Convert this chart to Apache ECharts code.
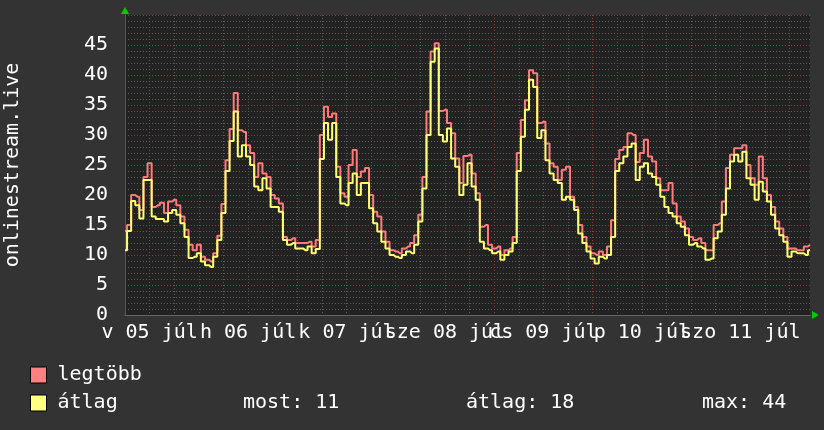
<!DOCTYPE html>
<html>
<head>
<meta charset="utf-8">
<script src="https://cdn.jsdelivr.net/npm/echarts@6/dist/echarts.min.js"></script>
<style>
  html, body { margin: 0; background: #333333; }
  #chart { width: 824px; height: 430px; }
</style>
</head>
<body>
<div id="chart"></div>
<script>
// hourly samples, 05 júl 06:00 -> 12 júl 05:00
var startDay = 5
var startHour = 6
var dayLabels = ['v 05 júl', 'h 06 júl', 'k 07 júl', 'sze 08 júl', 'cs 09 júl', 'p 10 júl', 'szo 11 júl']

var legtobb = [
  14, 15, 20, 19.7, 17.5, 23, 25.3, 18, 18.3, 18.7, 17, 18.9, 19.2, 18.3, 16.4, 14.2, 11.7, 10.8,
  11.7, 9.7, 9.2, 8.9, 10.3, 13.2, 18.5, 25.8, 31, 37, 30.8, 30.5, 28.3, 27, 23, 25.3, 23.6, 23, 20, 19.4, 18.6, 13, 12.5, 12.8,
  12, 12, 12, 12.2, 11.4, 12.5, 30, 34.7, 33, 33.6, 24.7, 20.3, 19.7, 25, 27.5, 23, 23.9, 24.5, 20, 17.2, 16.4, 13.9, 12.2, 10.8,
  10.6, 10.3, 11.1, 11.4, 12, 13.3, 16.7, 23, 33.9, 43.9, 45.3, 34, 34.2, 32, 30.3, 26.1, 22, 26.5, 26.7, 23.6, 20.3, 14.7, 15, 11.7,
  11.1, 11.4, 10, 10.8, 11.1, 13, 27, 32.5, 35.8, 40.8, 40.3, 32, 32.2, 28.6, 25.3, 24.7, 22.5, 24.2, 24.7, 19.7, 18, 15, 13, 11.4,
  10.3, 10, 10.6, 10, 11.4, 15.8, 26, 27.5, 28, 30.3, 30, 25.5, 27, 29.2, 26.4, 25.6, 22.8, 20.8, 20.8, 22, 18.6, 16.4, 15.6, 14.4,
  13, 12.5, 12.8, 12, 10.8, 10.8, 15, 15.3, 18.9, 24.5, 26.7, 27.8, 27.8, 28.3, 25, 22.8, 21.7, 26.4, 22.8, 20, 18, 15.6, 14.4, 13,
  11.1, 11.1, 10.8, 10.8, 11.4, 11.7
]
var atlag = [
  10.8, 14, 19, 18.3, 16.1, 22.5, 22.5, 16.4, 16, 16, 15.6, 17, 17.5, 16.7, 15.3, 13, 9.5, 9.7,
  10.3, 8.9, 8.3, 8, 9.7, 12.5, 17, 24, 29, 33.9, 26.4, 28.3, 26.4, 25, 21.4, 20.8, 22.8, 21.1, 18, 18, 17.2, 12.5, 11.7, 12,
  11.1, 11.1, 10.8, 11.4, 10.3, 11, 26, 32, 29.2, 32, 23, 18.6, 18.3, 22, 23.6, 20, 22, 22, 17.8, 15.3, 13.9, 12.2, 11.1, 10,
  9.7, 9.5, 10, 10.6, 10.3, 11.7, 15.6, 21.1, 30, 42.2, 44.4, 30, 28.9, 31.1, 26.1, 24.7, 20, 21.7, 25.3, 21.4, 19.2, 12.2, 11.1, 10.8,
  10.3, 10.6, 9.2, 10, 10.6, 12, 24, 29.7, 34.2, 39.2, 38, 29.5, 30.8, 25.8, 23.6, 22.5, 22, 19.2, 19.7, 19.2, 17.5, 13.6, 12, 10.6,
  9.4, 8.6, 9.7, 9.4, 10, 13, 24, 25.3, 26.4, 28, 28.6, 22.5, 24.7, 25.3, 23.6, 23, 21.7, 19.7, 18, 17, 16.4, 15.3, 14.7, 13.3,
  11.7, 12, 11.4, 11.1, 9.2, 9.4, 12.8, 13.9, 16.7, 21.1, 25.6, 26.7, 25.6, 27.2, 22.8, 21.7, 19.2, 22.2, 20.6, 18.9, 16.7, 14.4, 13.3, 12.2,
  9.7, 10.6, 10.3, 10.3, 10, 10.8
]
var stats = ['most: 11', 'átlag: 18', 'max: 44']

// category labels: one per hour
var hours = []
for (var i = 0; i < legtobb.length; i++) {
  var h = startHour + i
  var d = startDay + Math.floor(h / 24)
  hours.push('07-' + (d < 10 ? '0' + d : d) + ' ' + (h % 24) + ':00')
}
function hourOf(idx) { return (startHour + idx) % 24 }
function dayOf(idx) { return Math.floor((startHour + idx) / 24) }

var mono = 'DejaVu Sans Mono'
var chart = echarts.init(document.getElementById('chart'))

// labels are split over the two x axes (even / odd days) so none gets hidden
function dayLabel(parity) {
  return {
    interval: function (idx) { return hourOf(idx) === 12 && dayOf(idx) % 2 === parity },
    formatter: function (v, idx) { return dayLabels[dayOf(idx)] },
    showMinLabel: true, showMaxLabel: true, hideOverlap: false,
    color: '#ffffff', fontSize: 20, fontFamily: mono, margin: 8
  }
}

var option = {
  backgroundColor: '#333333',
  animation: false,
  grid: {
    left: 125, right: 14, top: 15, bottom: 115,
    containLabel: false, outerBoundsMode: 'none',
    show: true, backgroundColor: '#222222', borderWidth: 0
  },
  legend: {
    orient: 'vertical',
    left: 25, top: 360,
    itemWidth: 16, itemHeight: 16, itemGap: 8,
    icon: 'rect',
    selectedMode: false,
    textStyle: { color: '#ffffff', fontSize: 20, fontFamily: mono, padding: [0, 0, 0, 6] },
    data: [
      { name: 'legtöbb', itemStyle: { borderColor: '#000', borderWidth: 1 } },
      { name: 'átlag', itemStyle: { borderColor: '#000', borderWidth: 1 } }
    ]
  },
  xAxis: [
    {
      type: 'category',
      data: hours,
      boundaryGap: false,
      axisLine: { show: true, lineStyle: { color: '#666666' } },
      axisTick: { show: false },
      axisLabel: dayLabel(0),
      splitLine: {
        show: true,
        interval: function (idx) { return hourOf(idx) === 0 },
        lineStyle: { color: '#8a3c3c', type: [1, 2], width: 1 }
      },
      z: 3
    },
    {
      type: 'category',
      data: hours,
      boundaryGap: false,
      position: 'bottom',
      offset: 0,
      axisLine: { show: false },
      axisTick: { show: false },
      axisLabel: dayLabel(1),
      splitLine: {
        show: true,
        interval: function (idx) { return hourOf(idx) % 6 === 0 && hourOf(idx) !== 0 },
        lineStyle: { color: '#5a5a5a', type: [1, 2], width: 1 }
      }
    }
  ],
  yAxis: {
    type: 'value',
    min: 0, max: 50, interval: 5,
    name: 'onlinestream.live',
    nameLocation: 'middle',
    nameGap: 102,
    nameTextStyle: { color: '#ffffff', fontSize: 20, fontFamily: mono },
    axisLine: { show: true, lineStyle: { color: '#555555' } },
    axisTick: { show: false },
    axisLabel: {
      color: '#ffffff', fontSize: 20, fontFamily: mono, margin: 17,
      formatter: function (v) { return v >= 50 ? '' : v }
    },
    splitLine: { show: true, lineStyle: { color: '#8a3c3c', type: [1, 2] } },
    minorTick: { show: false, splitNumber: 5 },
    minorSplitLine: { show: true, lineStyle: { color: '#5a5a5a', type: [1, 2] } }
  },
  series: [
    {
      name: 'legtöbb', type: 'line', step: 'middle', showSymbol: false,
      data: legtobb, color: '#ff8080',
      lineStyle: { width: 2, color: '#ff7a7a' }
    },
    {
      name: 'átlag', type: 'line', step: 'middle', showSymbol: false,
      data: atlag, color: '#ffff80',
      lineStyle: { width: 2, color: '#ffff70' }
    }
  ],
  graphic: [
    { type: 'polygon', shape: { points: [[121, 14], [129, 14], [125, 7]] }, style: { fill: '#00cc00' } },
    { type: 'polygon', shape: { points: [[812, 311], [812, 319], [819, 315]] }, style: { fill: '#00cc00' } },
    { type: 'text', left: 243, top: 393, style: { text: stats[0], fill: '#ffffff', font: '20px "DejaVu Sans Mono"' } },
    { type: 'text', left: 466, top: 393, style: { text: stats[1], fill: '#ffffff', font: '20px "DejaVu Sans Mono"' } },
    { type: 'text', left: 702, top: 393, style: { text: stats[2], fill: '#ffffff', font: '20px "DejaVu Sans Mono"' } }
  ]
}

chart.setOption(option)
</script>
</body>
</html>
